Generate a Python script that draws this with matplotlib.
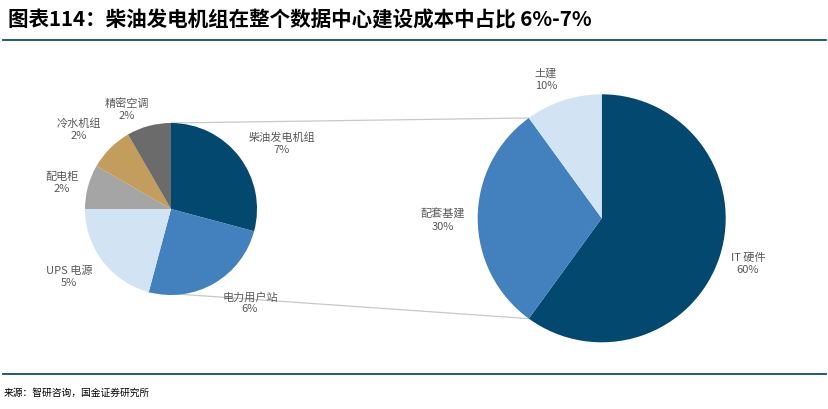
import matplotlib
matplotlib.use("Agg")
import matplotlib.pyplot as plt
from matplotlib.lines import Line2D
import numpy as np

plt.rcParams['font.family'] = ['Noto Sans CJK SC', 'DejaVu Sans']

# Data
title = "图表114：柴油发电机组在整个数据中心建设成本中占比 6%-7%"
source = "来源：智研咨询，国金证券研究所"

main_labels = ["IT 硬件", "配套基建", "土建"]
main_values = [60, 30, 10]
main_colors = ["#03486E", "#4280BE", "#D2E3F3"]

sub_labels = ["柴油发电机组", "电力用户站", "UPS 电源", "配电柜", "冷水机组", "精密空调"]
sub_values = [7, 6, 5, 2, 2, 2]
sub_colors = ["#03486E", "#4280BE", "#D2E3F3", "#A5A5A5", "#C29D5C", "#6B6B6B"]

W, H = 829, 409
fig = plt.figure(figsize=(W / 100, H / 100), dpi=100)
ax = fig.add_axes([0, 0, 1, 1])

def py(y):
    return H - y

# left pie
lc = (171, py(209)); lr = 86
ax.pie(sub_values, colors=sub_colors, startangle=90, counterclock=False,
       center=lc, radius=lr, wedgeprops=dict(linewidth=0))
# right pie
rc = (601.7, py(218.3)); rr = 124
ax.pie(main_values, colors=main_colors, startangle=90, counterclock=False,
       center=rc, radius=rr, wedgeprops=dict(linewidth=0))

ax.set_xlim(0, W)
ax.set_ylim(0, H)
ax.set_aspect('auto')
ax.axis('off')

def pt(c, r, ang):
    a = np.deg2rad(ang)
    return c[0] + r * np.cos(a), c[1] + r * np.sin(a)

# connector lines
tot_s = sum(sub_values)
ang_bottom_left = 90 - 360 * (sub_values[0] + sub_values[1]) / tot_s
tot_m = sum(main_values)
ang_top_right = 90 + 360 * main_values[2] / tot_m
ang_bot_right = 90 - 360 * main_values[0] / tot_m
p1 = pt(lc, lr, 90); p2 = pt(rc, rr, ang_top_right)
p3 = pt(lc, lr, ang_bottom_left); p4 = pt(rc, rr, ang_bot_right)
ax.add_line(Line2D([p1[0], p2[0]], [p1[1], p2[1]], color="#C8C8C8", lw=0.9, zorder=0))
ax.add_line(Line2D([p3[0], p4[0]], [p3[1], p4[1]], color="#C8C8C8", lw=0.9, zorder=0))

lab_col = "#595959"
def lab(x, y, name, val):
    ax.text(x, py(y), f"{name}\n{val}%", ha='center', va='center', fontsize=8,
            color=lab_col, linespacing=1.25)

sub_pos = [(282, 144), (250, 303), (69, 277), (62, 183), (79, 130), (127, 110)]
for (x, y), n, v in zip(sub_pos, sub_labels, sub_values):
    lab(x, y, n, v)
main_pos = [(748, 264), (443, 220), (546, 80)]
for (x, y), n, v in zip(main_pos, main_labels, main_values):
    lab(x, y, n, v)

# title & rules
ax.text(8, py(20), title, ha='left', va='center', fontsize=14.8, fontweight='bold',
        color='black')
ax.add_line(Line2D([3, 826], [py(39.5), py(39.5)], color="#0E4E6E", lw=1.3))
ax.add_line(Line2D([3, 826], [py(374), py(374)], color="#0E4E6E", lw=1.3))
ax.text(4, py(393), source, ha='left', va='center', fontsize=7, color='black')

fig.savefig("out.png", dpi=100)
